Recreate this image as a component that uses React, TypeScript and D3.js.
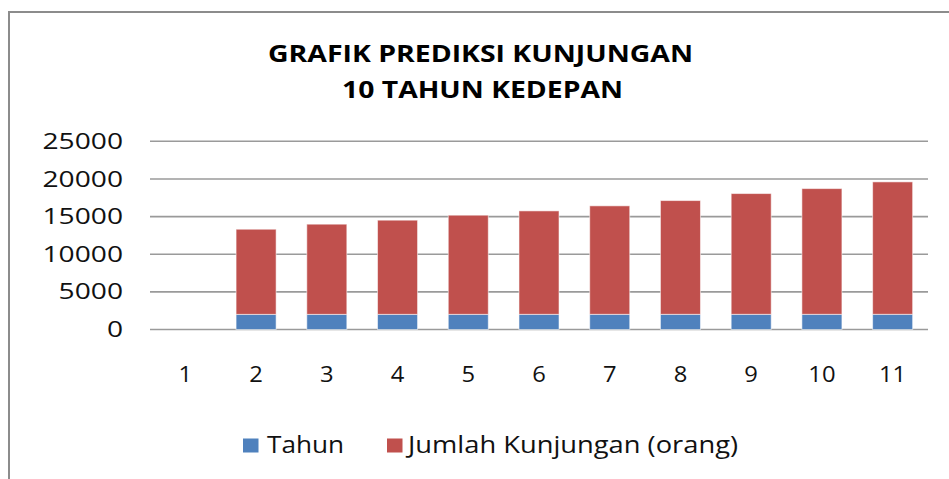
import { useEffect, useRef } from 'react';
import * as d3 from 'd3';

const categories = ['1', '2', '3', '4', '5', '6', '7', '8', '9', '10', '11'];
// category 1 is empty in the source chart
const tahun = [0, 2011, 2012, 2013, 2014, 2015, 2016, 2017, 2018, 2019, 2020];
const kunjungan = [0, 11310, 11980, 12510, 13170, 13740, 14410, 15110, 16040, 16700, 17590];
const yTicks = [0, 5000, 10000, 15000, 20000, 25000];

const SERIES = [
  { name: 'Tahun', color: '#4f81bd' },
  { name: 'Jumlah Kunjungan (orang)', color: '#c0504d' },
];

const W = 949;
const H = 479;
const FONT = "'Open Sans', 'DejaVu Sans', sans-serif";

export default function App() {
  const svgRef = useRef<SVGSVGElement>(null);

  useEffect(() => {
    if (!svgRef.current) return;
    const svg = d3.select(svgRef.current);
    svg.selectAll('*').remove();

    svg.append('rect').attr('width', W).attr('height', H).attr('fill', '#fff');

    // chart frame (runs off the right and bottom of the picture)
    svg.append('rect')
      .attr('x', 9).attr('y', 12)
      .attr('width', W + 20).attr('height', H + 20)
      .attr('fill', 'none').attr('stroke', '#8c8c8c').attr('stroke-width', 2);

    const x = d3.scaleBand<string>().domain(categories).range([150, 928]).paddingInner(0.434).paddingOuter(0.217);
    const y = d3.scaleLinear().domain([0, 25000]).range([329.5, 141.3]);

    // title
    const title = [
      { text: 'GRAFIK PREDIKSI KUNJUNGAN', x: 268, y: 61.5, len: 425 },
      { text: '10 TAHUN KEDEPAN', x: 342, y: 98.3, len: 281 },
    ];
    svg.selectAll('text.title').data(title).enter().append('text')
      .attr('class', 'title')
      .attr('x', (d) => d.x).attr('y', (d) => d.y)
      .attr('textLength', (d) => d.len).attr('lengthAdjust', 'spacingAndGlyphs')
      .attr('font-family', FONT).attr('font-weight', 700).attr('font-size', 24)
      .attr('fill', '#000')
      .text((d) => d.text);

    // gridlines
    svg.append('g').selectAll('line').data(yTicks).enter().append('line')
      .attr('x1', 150).attr('x2', 928)
      .attr('y1', (d) => y(d)).attr('y2', (d) => y(d))
      .attr('stroke', '#9a9a9a').attr('stroke-width', 1.6);

    // y tick labels
    svg.append('g').selectAll('text').data(yTicks).enter().append('text')
      .attr('x', (d) => 123 - String(d).length * 16.1)
      .attr('y', (d) => y(d) + 7.6)
      .attr('textLength', (d) => String(d).length * 16.1).attr('lengthAdjust', 'spacingAndGlyphs')
      .attr('font-family', FONT).attr('font-size', 21).attr('fill', '#111')
      .text((d) => d);

    // stacked bars
    const rows = categories.map((c, i) => ({ cat: c, Tahun: tahun[i], Jumlah: kunjungan[i] }));
    const stacked = d3.stack<any>().keys(['Tahun', 'Jumlah'])(rows);
    stacked.forEach((layer, li) => {
      svg.append('g').selectAll('rect').data(layer).enter().append('rect')
        .filter((d) => d[1] - d[0] > 0)
        .attr('x', (d) => x(d.data.cat) ?? 0)
        .attr('width', x.bandwidth())
        .attr('y', (d) => y(d[1]))
        .attr('height', (d) => y(d[0]) - y(d[1]))
        .attr('fill', SERIES[li].color)
        .attr('stroke', 'rgba(255,255,255,0.55)').attr('stroke-width', 1);
    });

    // x labels
    svg.append('g').selectAll('text').data(categories).enter().append('text')
      .attr('x', (d) => (x(d) ?? 0) + x.bandwidth() / 2 - d.length * 6.8)
      .attr('y', 382)
      .attr('textLength', (d) => d.length * 13.6).attr('lengthAdjust', 'spacingAndGlyphs')
      .attr('font-family', FONT).attr('font-size', 22).attr('fill', '#111')
      .text((d) => d);

    // legend
    const legend = [
      { sx: 243, tx: 267, len: 77 },
      { sx: 387, tx: 408, len: 330 },
    ];
    legend.forEach((l, i) => {
      svg.append('rect')
        .attr('x', l.sx).attr('y', 438.5).attr('width', 15.5).attr('height', 14)
        .attr('fill', SERIES[i].color);
      svg.append('text')
        .attr('x', l.tx).attr('y', 453.3)
        .attr('textLength', l.len).attr('lengthAdjust', 'spacingAndGlyphs')
        .attr('font-family', FONT).attr('font-size', 23).attr('fill', '#111')
        .text(SERIES[i].name);
    });
  }, []);

  return (
    <svg
      ref={svgRef}
      width={W}
      height={H}
      viewBox={`0 0 ${W} ${H}`}
      style={{ position: 'absolute', left: 0, top: 0, display: 'block' }}
    />
  );
}
